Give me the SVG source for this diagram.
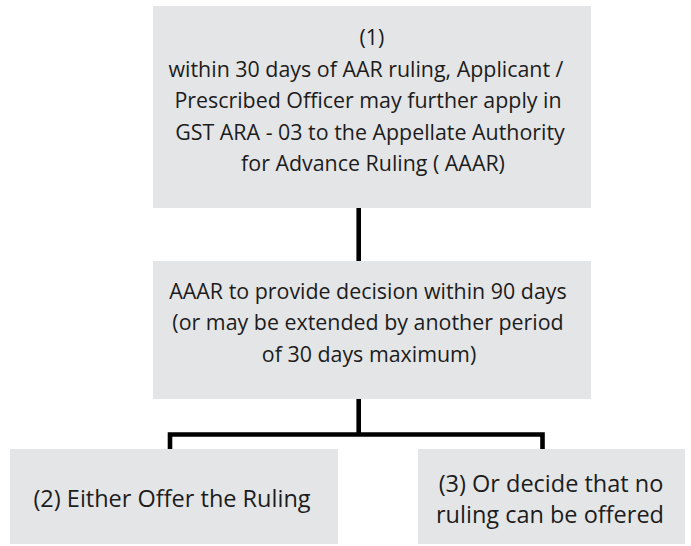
<svg xmlns="http://www.w3.org/2000/svg" width="691" height="546" viewBox="0 0 691 546">
  <style>
    .box { fill: #e4e5e7; }
    .lbl { font-family: "Open Sans", "Liberation Sans", sans-serif; font-size: 21.4px; fill: #1c1c1c; text-anchor: middle; }
    .big { font-size: 23.5px; }
    .wire { fill: none; stroke: #000; stroke-width: 4.6; stroke-linejoin: miter; }
  </style>
  <rect width="691" height="546" fill="#fff"/>

  <g id="connectors">
    <line class="wire" x1="358.7" y1="208" x2="358.7" y2="261"/>
    <path class="wire" d="M358.7 399 V434.5 M170 449 V434.5 H542.5 V449"/>
  </g>

  <g id="node-appeal">
    <rect class="box" x="153" y="6" width="438" height="202"/>
    <text class="lbl" x="372" y="45">(1)</text>
    <text class="lbl" x="366" y="77">within 30 days of AAR ruling, Applicant /</text>
    <text class="lbl" x="368" y="108">Prescribed Officer may further apply in</text>
    <text class="lbl" x="370" y="140">GST ARA - 03 to the Appellate Authority</text>
    <text class="lbl" x="373" y="171">for Advance Ruling ( AAAR)</text>
  </g>

  <g id="node-decision">
    <rect class="box" x="153" y="261" width="438" height="138"/>
    <text class="lbl" x="368" y="299">AAAR to provide decision within 90 days</text>
    <text class="lbl" x="368" y="330">(or may be extended by another period</text>
    <text class="lbl" x="369" y="362">of 30 days maximum)</text>
  </g>

  <g id="node-offer">
    <rect class="box" x="10" y="449" width="328" height="95"/>
    <text class="lbl big" x="172" y="507">(2) Either Offer the Ruling</text>
  </g>

  <g id="node-no-ruling">
    <rect class="box" x="418" y="449" width="267" height="95"/>
    <text class="lbl big" x="551" y="492">(3) Or decide that no</text>
    <text class="lbl big" x="550" y="523">ruling can be offered</text>
  </g>
</svg>
